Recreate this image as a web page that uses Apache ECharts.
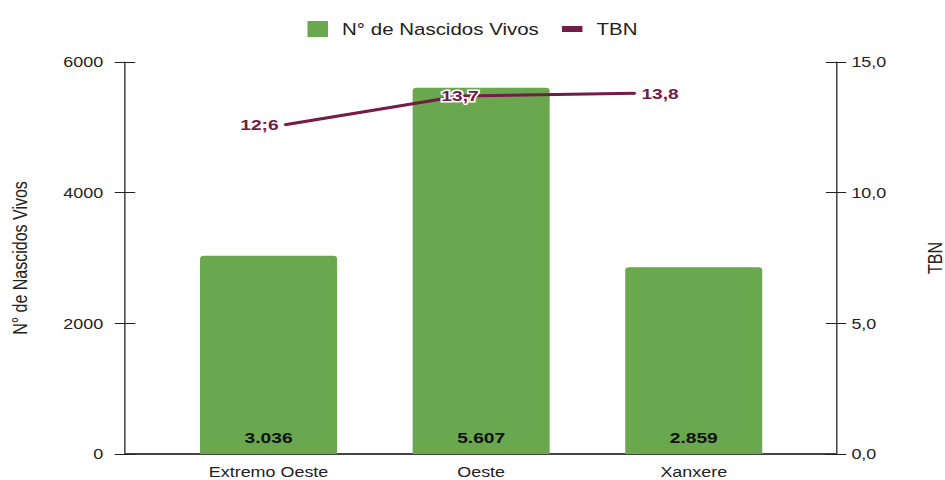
<!DOCTYPE html>
<html>
<head>
<meta charset="utf-8">
<script src="https://cdn.jsdelivr.net/npm/echarts@6/dist/echarts.min.js"></script>
<style>
  html, body { margin: 0; padding: 0; background: #fff; overflow: hidden; }
  /* o grafico original esta esticado na horizontal */
  #container { width: 738px; height: 480px; transform: scaleX(1.2805); transform-origin: 0 0; }
</style>
</head>
<body>
<div id="container"></div>
<script>
var regioes = ['Extremo Oeste', 'Oeste', 'Xanxere'];
var nascidos = [3036, 5607, 2859];
var tbn = [12.6, 13.7, 13.8];
var tbnLabels = ['12;6', '13,7', '13,8'];

var verde = '#6aa84f';
var vinho = '#741b47';
var fonte = 'Liberation Sans, Arial, sans-serif';

function milhar(v) {
    return String(v).replace(/\B(?=(\d{3})+(?!\d))/g, '.');
}

var dom = document.getElementById('container');
var myChart = echarts.init(dom, null, {renderer: 'svg'});

var option = {
    textStyle: {fontFamily: fonte},
    legend: {
        top: 16,
        left: 'center',
        itemWidth: 16,
        itemHeight: 16,
        itemGap: 18,
        textStyle: {fontSize: 16, color: '#222', fontFamily: fonte, padding: [0, 0, 0, 6]},
        data: [
            {name: 'N° de Nascidos Vivos', icon: 'rect'},
            {name: 'TBN', icon: 'path://M0,0H16V6H0Z'}
        ]
    },
    grid: [
        {left: 97.6, right: 85.1, top: 62, bottom: 26, outerBoundsMode: 'none'},   // moldura dos eixos
        {left: 126.7, right: 113.2, top: 62, bottom: 26, outerBoundsMode: 'none'}, // barras
        {left: 222.6, right: 242.1, top: 62, bottom: 26, outerBoundsMode: 'none'}, // linha
        {left: 97.6, right: 85.1, top: 62, bottom: 26, outerBoundsMode: 'none'}    // tracinhos internos
    ],
    xAxis: [
        {
            gridIndex: 0, type: 'value', min: 0, max: 1,
            axisLine: {show: true, lineStyle: {color: '#444', width: 2}},
            axisTick: {show: false}, axisLabel: {show: false}, splitLine: {show: false}
        },
        {
            gridIndex: 1, type: 'category', data: regioes,
            axisLine: {show: false}, axisTick: {show: false},
            axisLabel: {fontSize: 14, color: '#222', margin: 11, fontFamily: fonte}
        },
        {
            gridIndex: 2, type: 'category', data: regioes, boundaryGap: false, show: false
        },
        {
            gridIndex: 3, type: 'value', min: 0, max: 1, show: false
        }
    ],
    yAxis: [
        {
            gridIndex: 0, type: 'value', position: 'left', min: 0, max: 6000, interval: 2000,
            name: 'N° de Nascidos Vivos', nameLocation: 'middle', nameGap: 74,
            nameTextStyle: {fontSize: 16, color: '#222', fontFamily: fonte},
            axisLine: {show: true, lineStyle: {color: '#222'}},
            axisTick: {show: true, length: 8, lineStyle: {color: '#222'}},
            axisLabel: {
                fontSize: 14, color: '#222', margin: 17, fontFamily: fonte,
                formatter: function (v) { return String(v); }
            },
            splitLine: {show: false}
        },
        {
            gridIndex: 0, type: 'value', position: 'right', min: 0, max: 15, interval: 5,
            name: 'TBN', nameLocation: 'middle', nameGap: 69,
            nameTextStyle: {fontSize: 16, color: '#222', fontFamily: fonte},
            axisLine: {show: true, lineStyle: {color: '#222'}},
            axisTick: {show: true, length: 8, lineStyle: {color: '#222'}},
            axisLabel: {
                fontSize: 14, color: '#222', margin: 12, fontFamily: fonte,
                formatter: function (v) { return v.toFixed(1).replace('.', ','); }
            },
            splitLine: {show: false}
        },
        {
            // tracinhos para dentro (esquerda)
            gridIndex: 3, type: 'value', position: 'left', min: 0, max: 6000, interval: 2000,
            axisLine: {show: false}, axisLabel: {show: false}, splitLine: {show: false},
            axisTick: {show: true, inside: true, length: 8, lineStyle: {color: '#222'}}
        },
        {
            // tracinhos para dentro (direita)
            gridIndex: 3, type: 'value', position: 'right', min: 0, max: 15, interval: 5,
            axisLine: {show: false}, axisLabel: {show: false}, splitLine: {show: false},
            axisTick: {show: true, inside: true, length: 8, lineStyle: {color: '#222'}}
        },
        {gridIndex: 1, type: 'value', min: 0, max: 6000, show: false, splitLine: {show: false}},
        {gridIndex: 2, type: 'value', min: 0, max: 15, show: false, splitLine: {show: false}}
    ],
    series: [
        {
            name: 'N° de Nascidos Vivos',
            type: 'bar',
            xAxisIndex: 1,
            yAxisIndex: 4,
            barWidth: 107,
            data: nascidos,
            itemStyle: {color: verde, borderRadius: [3, 3, 0, 0]},
            label: {
                show: true,
                position: 'insideBottom',
                distance: 9,
                fontSize: 15,
                fontWeight: 'bold',
                color: '#111',
                fontFamily: fonte,
                formatter: function (p) { return milhar(p.value); }
            }
        },
        {
            name: 'TBN',
            type: 'line',
            xAxisIndex: 2,
            yAxisIndex: 5,
            symbol: 'circle',
            symbolSize: 2,
            showSymbol: true,
            lineStyle: {color: vinho, width: 3},
            itemStyle: {color: vinho},
            z: 5,
            data: tbn.map(function (v, i) {
                var pos = i === 0 ? 'left' : (i === tbn.length - 1 ? 'right' : 'inside');
                return {value: v, label: {position: pos}};
            }),
            label: {
                show: true,
                distance: 4,
                fontSize: 15,
                fontWeight: 'bold',
                color: vinho,
                fontFamily: fonte,
                textBorderColor: '#fff',
                textBorderWidth: 3,
                formatter: function (p) { return tbnLabels[p.dataIndex]; }
            }
        }
    ]
};

if (option && typeof option === "object") {
    myChart.setOption(option, true);
}
</script>
</body>
</html>
